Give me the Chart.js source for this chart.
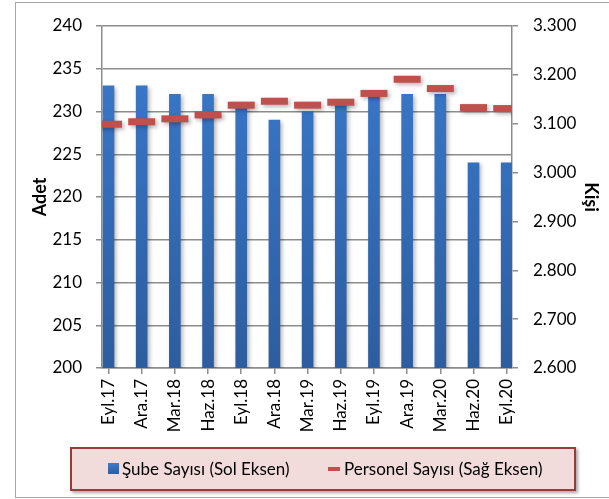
<!DOCTYPE html>
<html>
<head>
<meta charset="utf-8">
<script src="https://cdn.jsdelivr.net/npm/chart.js@4/dist/chart.umd.min.js"></script>
<style>
  html, body { margin: 0; padding: 0; background: #fff; }
  body { width: 609px; height: 499px; position: relative; overflow: hidden; font-family: Lato, "Noto Sans", sans-serif; }
  #frame { position: absolute; left: 15px; top: 2px; width: 600px; height: 494px; border: 1.5px solid #a6a6a6; }
  #chartBox { position: absolute; left: 0; top: 0; width: 609px; height: 499px; }
  #legend { position: absolute; left: 70px; top: 447px; width: 506px; height: 44px; box-sizing: border-box;
    background: #f2dcdb; border: 2.5px solid #983b39; box-shadow: 2px 2px 3px rgba(0,0,0,0.35); font-size: 17px; color: #000; }
  #legend span { position: absolute; top: 9px; white-space: nowrap; }
  .sw1 { position: absolute; left: 36px; top: 14px; width: 11px; height: 11px; background: linear-gradient(#3c7bcb, #2d5d9e); }
  .sw2 { position: absolute; left: 256px; top: 18px; width: 12px; height: 4px; background: #c0504d; }
</style>
</head>
<body>
<div id="frame"></div>
<canvas id="chartBox" width="609" height="499"></canvas>
<div id="legend">
  <div class="sw1"></div><span style="left:50px">Şube Sayısı (Sol Eksen)</span>
  <div class="sw2"></div><span style="left:272px">Personel Sayısı (Sağ Eksen)</span>
</div>
<script>
const months = ['Eyl.17', 'Ara.17', 'Mar.18', 'Haz.18', 'Eyl.18', 'Ara.18', 'Mar.19',
                'Haz.19', 'Eyl.19', 'Ara.19', 'Mar.20', 'Haz.20', 'Eyl.20'];
const subeSayisi = [233, 233, 232, 232, 231, 229, 230, 231, 232, 232, 232, 224, 224];
const personelSayisi = [3099, 3104, 3110, 3118, 3138, 3146, 3138, 3144, 3162, 3191, 3172, 3133, 3131];

const gridGray = '#8c8c8c';
const tickFont = { family: 'Lato', size: 17 };

function dotThousands(v) {
    return String(v).replace(/\B(?=(\d{3})+(?!\d))/g, '.');
}

// little drop shadow like the excel original
const shadowPlugin = {
    id: 'shadow',
    beforeDatasetDraw(chart) {
        const c = chart.ctx;
        c.save();
        c.shadowColor = 'rgba(0,0,0,0.3)';
        c.shadowBlur = 4;
        c.shadowOffsetX = 2;
        c.shadowOffsetY = 2;
    },
    afterDatasetDraw(chart) {
        chart.ctx.restore();
    }
};

const ctx = document.getElementById('chartBox').getContext('2d');
const myChart = new Chart(ctx, {
    data: {
        datasets: [{
            type: 'line',
            label: 'Personel Sayısı (Sağ Eksen)',
            data: personelSayisi.map((v, i) => ({ x: i, y: v })),
            yAxisID: 'y1',
            showLine: false,
            pointStyle: 'line',
            pointRadius: 13.5,
            pointHoverRadius: 13.5,
            pointBorderWidth: 7,
            borderColor: '#c0504d',
            backgroundColor: '#c0504d',
            order: 0
        }, {
            type: 'bar',
            label: 'Şube Sayısı (Sol Eksen)',
            data: subeSayisi.map((v, i) => ({ x: i, y: v })),
            yAxisID: 'y',
            barThickness: 11,
            backgroundColor: c => {
                const a = c.chart.chartArea;
                if (!a) return '#3a78c8';
                const g = c.chart.ctx.createLinearGradient(0, a.top, 0, a.bottom);
                g.addColorStop(0, '#3b7bcf');
                g.addColorStop(1, '#2d5d9e');
                return g;
            },
            order: 1
        }]
    },
    options: {
        responsive: false,
        animation: false,
        layout: { padding: { top: 26, right: 0, bottom: 51, left: 0 } },
        plugins: { legend: { display: false }, tooltip: { enabled: false } },
        scales: {
            x: {
                type: 'linear',
                offset: false,
                min: -0.196,
                max: 12.16,
                afterFit: s => { s.height = 80; },
                grid: { offset: false, drawOnChartArea: false, tickLength: 6, color: gridGray, lineWidth: 1.5 },
                border: { color: gridGray, width: 1.5 },
                ticks: {
                    stepSize: 1,
                    includeBounds: false,
                    autoSkip: false,
                    minRotation: 90,
                    maxRotation: 90,
                    padding: 5,
                    color: '#000',
                    font: tickFont,
                    callback: v => months[v] ?? ''
                }
            },
            y: {
                position: 'left',
                min: 200,
                max: 240,
                afterFit: s => { s.width = 102; },
                grid: { color: gridGray, lineWidth: 1.5, tickLength: 6 },
                border: { color: gridGray, width: 1.5 },
                ticks: { stepSize: 5, padding: 14, color: '#000', font: tickFont },
                title: { display: true, text: 'Adet', color: '#000', font: { family: 'Lato', size: 18, weight: 'bold' }, padding: { top: 29, bottom: 0 } }
            },
            y1: {
                position: 'right',
                min: 2600,
                max: 3300,
                afterFit: s => { s.width = 97; },
                grid: { drawOnChartArea: false, color: gridGray, lineWidth: 1.5, tickLength: 6 },
                border: { color: gridGray, width: 1.5 },
                ticks: { stepSize: 100, padding: 15, color: '#000', font: tickFont, callback: v => dotThousands(v) },
                title: { display: true, text: 'Kişi', color: '#000', font: { family: 'Lato', size: 18, weight: 'bold' }, padding: { top: 7, bottom: 0 } }
            }
        }
    },
    plugins: [shadowPlugin]
});
</script>
</body>
</html>
